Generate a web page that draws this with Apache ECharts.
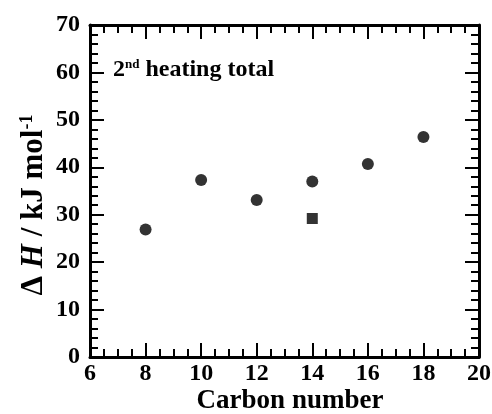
<!DOCTYPE html>
<html>
<head>
<meta charset="utf-8">
<script src="https://cdn.jsdelivr.net/npm/echarts@6/dist/echarts.min.js"></script>
<style>html,body{margin:0;padding:0;background:#fff}#c{width:492px;height:414px}</style>
</head>
<body>
<div id="c"></div>
<script>
const carbonCircle = [8, 10, 12, 14, 16, 18];
const dHCircle = [26.9, 37.3, 33.1, 37.0, 40.7, 46.4];
const carbonSquare = [14];
const dHSquare = [29.2];
const xTicks = {min: 6, max: 20, interval: 2};
const yTicks = {min: 0, max: 70, interval: 10};

const FF = '"Liberation Serif", "Times New Roman", serif';
const chart = echarts.init(document.getElementById('c'), null, {renderer: 'canvas'});

function axisCommon(extra) {
  return Object.assign({
    axisLine: {show: true, onZero: false, lineStyle: {color: '#000', width: 3}},
    axisTick: {show: true, inside: true, length: 14, lineStyle: {color: '#000', width: 2}},
    splitLine: {show: false},
    minorSplitLine: {show: false}
  }, extra);
}

chart.setOption({
  animation: false,
  backgroundColor: '#fff',
  grid: {left: 90, right: 13, top: 25, bottom: 57, containLabel: false, outerBoundsMode: 'none'},
  graphic: [
    {
      type: 'text', left: 113, top: 58,
      style: {
        text: '{a|2}{s|nd}{a| heating total}',
        fontFamily: FF, fontWeight: 'bold', fontSize: 24, fill: '#000',
        rich: {
          a: {fontFamily: FF, fontWeight: 'bold', fontSize: 24, fill: '#000'},
          s: {fontFamily: FF, fontWeight: 'bold', fontSize: 13, fill: '#000', verticalAlign: 'top', padding: [0, 0, 10, 0]}
        }
      }
    },
    {
      type: 'text', x: 290, y: 401,
      style: {
        text: 'Carbon number', align: 'center', verticalAlign: 'middle',
        fontFamily: FF, fontWeight: 'bold', fontSize: 27, fill: '#000'
      }
    },
    {
      type: 'text', x: 34, y: 205, rotation: Math.PI / 2,
      style: {
        text: '{d|Δ }{i|H}{d| / kJ mol}{s|-1}', align: 'center', verticalAlign: 'middle',
        fontFamily: FF, fontWeight: 'bold', fontSize: 31, fill: '#000',
        rich: {
          d: {fontFamily: FF, fontWeight: 'bold', fontSize: 31, fill: '#000'},
          i: {fontFamily: FF, fontWeight: 'bold', fontStyle: 'italic', fontSize: 31, fill: '#000'},
          s: {fontFamily: FF, fontWeight: 'bold', fontSize: 18, fill: '#000', verticalAlign: 'top', padding: [0, 0, 13, 0]}
        }
      }
    }
  ],
  xAxis: [
    axisCommon({
      type: 'value', position: 'bottom', min: xTicks.min, max: xTicks.max, interval: xTicks.interval,
      minorTick: {show: true, splitNumber: 4, length: 8, lineStyle: {color: '#000', width: 2}},
      axisLabel: {show: true, color: '#000', fontFamily: FF, fontWeight: 'bold', fontSize: 24, margin: 5}
    }),
    axisCommon({
      type: 'value', position: 'top', min: xTicks.min, max: xTicks.max, interval: xTicks.interval,
      minorTick: {show: true, splitNumber: 4, length: 8, lineStyle: {color: '#000', width: 2}},
      axisLabel: {show: false}
    })
  ],
  yAxis: [
    axisCommon({
      type: 'value', position: 'left', min: yTicks.min, max: yTicks.max, interval: yTicks.interval,
      minorTick: {show: true, splitNumber: 5, length: 8, lineStyle: {color: '#000', width: 2}},
      axisLabel: {show: true, color: '#000', fontFamily: FF, fontWeight: 'bold', fontSize: 24, margin: 10}
    }),
    axisCommon({
      type: 'value', position: 'right', min: yTicks.min, max: yTicks.max, interval: yTicks.interval,
      minorTick: {show: true, splitNumber: 5, length: 8, lineStyle: {color: '#000', width: 2}},
      axisLabel: {show: false}
    })
  ],
  series: [
    {
      type: 'scatter', xAxisIndex: 0, yAxisIndex: 0,
      symbol: 'circle', symbolSize: 12,
      itemStyle: {color: '#000'},
      data: carbonCircle.map((c, i) => [c, dHCircle[i]])
    },
    {
      type: 'scatter', xAxisIndex: 0, yAxisIndex: 0,
      symbol: 'rect', symbolSize: 11,
      itemStyle: {color: '#000'},
      data: carbonSquare.map((c, i) => [c, dHSquare[i]])
    }
  ]
});
</script>
</body>
</html>
